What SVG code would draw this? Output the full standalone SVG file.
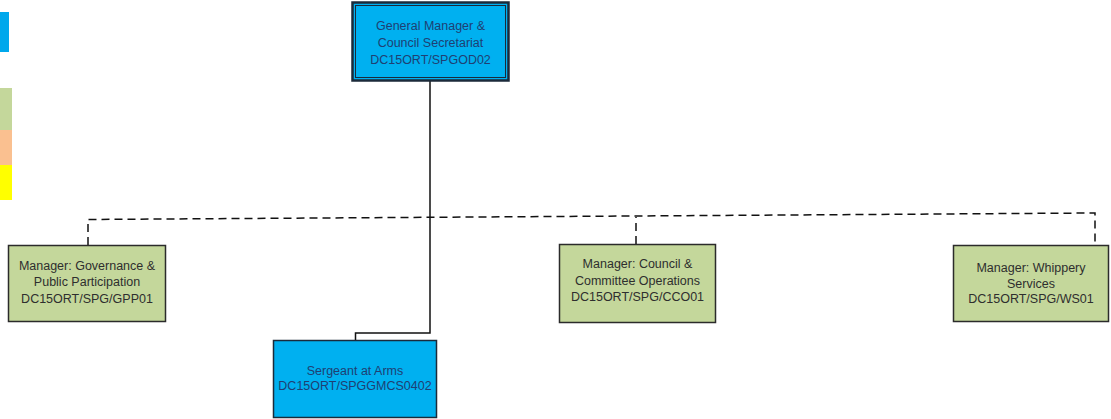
<svg xmlns="http://www.w3.org/2000/svg" width="1111" height="419" viewBox="0 0 1111 419">
  <style>
    .blue { fill: #00b0f0; stroke: #1b2a3a; stroke-width: 1.5; }
    .green { fill: #c4d79b; stroke: #2b2b2b; stroke-width: 1.5; }
    .t { font-family: "Liberation Sans", Arial, sans-serif; font-size: 12.5px; text-anchor: middle; }
    .tb { fill: #1f3f73; }
    .tg { fill: #2e2e2e; }
    .solid { fill: none; stroke: #111; stroke-width: 1.5; }
    .dash { fill: none; stroke: #111; stroke-width: 1.5; stroke-dasharray: 8 5; }
  </style>

  <rect width="1111" height="419" fill="#ffffff"/>

  <!-- colour key strip -->
  <g id="legend">
    <rect x="0" y="12" width="9" height="40" fill="#00a8ec"/>
    <rect x="0" y="88" width="12" height="42" fill="#c4d79b"/>
    <rect x="0" y="130" width="12" height="35" fill="#fac090"/>
    <rect x="0" y="165" width="12" height="35" fill="#ffff00"/>
  </g>

  <g id="connectors">
    <!-- solid reporting line to Sergeant at Arms -->
    <path class="solid" d="M430 81 V333 H355.5 V340"/>
    <!-- dashed line to managers -->
    <path class="dash" d="M88 245 V219.5 L1095 213 V245"/>
    <path class="dash" d="M636 244 V217"/>
  </g>

  <g id="general-manager">
    <rect x="352.5" y="2.5" width="156" height="78" fill="#00b0f0" stroke="#1b2a3a" stroke-width="2.5"/>
    <rect x="355.5" y="5.5" width="150" height="72" fill="none" stroke="#1b2a3a" stroke-width="1"/>
    <text class="t tb" x="430.5" y="29.5">General Manager &amp;</text>
    <text class="t tb" x="430.5" y="46.5">Council Secretariat</text>
    <text class="t tb" x="430.5" y="64">DC15ORT/SPGOD02</text>
  </g>

  <g id="governance">
    <rect class="green" x="8.5" y="245.5" width="157" height="76"/>
    <text class="t tg" x="87" y="269.5">Manager: Governance &amp;</text>
    <text class="t tg" x="87" y="286">Public Participation</text>
    <text class="t tg" x="87" y="302.5">DC15ORT/SPG/GPP01</text>
  </g>

  <g id="council-operations">
    <rect class="green" x="559.5" y="244.5" width="156" height="78"/>
    <text class="t tg" x="637.5" y="268">Manager: Council &amp;</text>
    <text class="t tg" x="637.5" y="284.5">Committee Operations</text>
    <text class="t tg" x="637.5" y="301">DC15ORT/SPG/CCO01</text>
  </g>

  <g id="whippery">
    <rect class="green" x="953.5" y="245.5" width="155" height="76"/>
    <text class="t tg" x="1031" y="272">Manager: Whippery</text>
    <text class="t tg" x="1031" y="287.5">Services</text>
    <text class="t tg" x="1031" y="303">DC15ORT/SPG/WS01</text>
  </g>

  <g id="sergeant-at-arms">
    <rect class="blue" x="273.5" y="340.5" width="163" height="77"/>
    <text class="t tb" x="355" y="374.5">Sergeant at Arms</text>
    <text class="t tb" x="355" y="390">DC15ORT/SPGGMCS0402</text>
  </g>
</svg>
